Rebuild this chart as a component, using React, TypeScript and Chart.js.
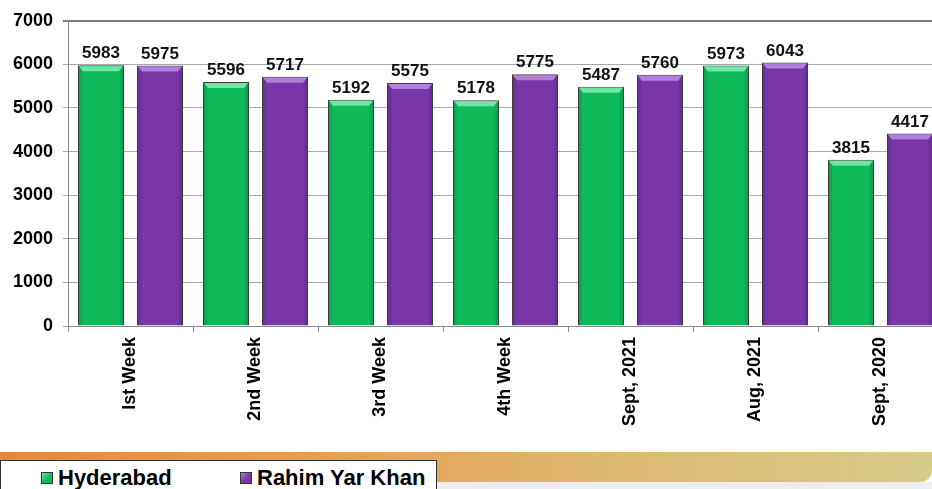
import React, { useEffect, useRef } from "react";
import { Chart, registerables } from "chart.js";

Chart.register(...registerables);

const categories = ["Ist Week", "2nd Week", "3rd Week", "4th Week", "Sept, 2021", "Aug, 2021", "Sept, 2020"];
const hyderabad = [5983, 5596, 5192, 5178, 5487, 5973, 3815];
const rahimYarKhan = [5975, 5717, 5575, 5775, 5760, 6043, 4417];
const seriesNames = ["Hyderabad", "Rahim Yar Khan"];
const yTicks = { min: 0, max: 7000, step: 1000 };

const FONT = "'Liberation Sans', Arial, sans-serif";
const GREEN = "#0fba5a";
const GREEN_LIGHT = "#6fe6a4";
const PURPLE = "#7936a8";
const PURPLE_LIGHT = "#b27ddb";

const barDecor = {
  id: "barDecor",
  afterDatasetsDraw(chart: any) {
    const ctx = chart.ctx;
    chart.data.datasets.forEach((ds: any, di: number) => {
      const meta = chart.getDatasetMeta(di);
      const light = di === 0 ? GREEN_LIGHT : PURPLE_LIGHT;
      meta.data.forEach((el: any, i: number) => {
        const { x, y, base, width } = el.getProps(["x", "y", "base", "width"], true);
        const l = x - width / 2;
        const r = x + width / 2;
        ctx.save();
        const g = ctx.createLinearGradient(l, 0, r, 0);
        g.addColorStop(0, "rgba(0,0,0,0.18)");
        g.addColorStop(0.12, "rgba(0,0,0,0)");
        g.addColorStop(0.88, "rgba(0,0,0,0)");
        g.addColorStop(1, "rgba(0,0,0,0.2)");
        ctx.fillStyle = g;
        ctx.fillRect(l + 1, y + 1, width - 2, base - y - 1);
        ctx.beginPath();
        ctx.moveTo(l + 1, y + 1);
        ctx.lineTo(r - 1, y + 1);
        ctx.lineTo(r - 5, y + 6);
        ctx.lineTo(l + 5, y + 6);
        ctx.closePath();
        ctx.fillStyle = light;
        ctx.fill();
        ctx.fillStyle = "#111";
        ctx.font = `bold 17px ${FONT}`;
        ctx.textAlign = "center";
        ctx.textBaseline = "bottom";
        ctx.fillText(String(ds.data[i]), x, y - 3);
        ctx.restore();
      });
    });
  },
};

function ChartBox() {
  const ref = useRef<HTMLCanvasElement>(null);
  useEffect(() => {
    if (!ref.current) return;
    const chart = new Chart(ref.current, {
      type: "bar",
      data: {
        labels: categories,
        datasets: [
          {
            label: seriesNames[0],
            data: hyderabad,
            backgroundColor: GREEN,
            borderColor: "#3d3d3d",
            borderWidth: 1,
            categoryPercentage: 0.944,
            barPercentage: 0.78,
          },
          {
            label: seriesNames[1],
            data: rahimYarKhan,
            backgroundColor: PURPLE,
            borderColor: "#3d3d3d",
            borderWidth: 1,
            categoryPercentage: 0.944,
            barPercentage: 0.78,
          },
        ],
      },
      options: {
        responsive: false,
        animation: false,
        devicePixelRatio: 1,
        layout: { padding: { top: 19, left: 0, right: 0, bottom: 0 } },
        plugins: { legend: { display: false }, tooltip: { enabled: false } },
        scales: {
          x: {
            afterFit: (s: any) => {
              s.height = 126;
            },
            grid: {
              offset: true,
              drawOnChartArea: false,
              tickLength: 6,
              color: "#8c8c8c",
            },
            border: { color: "#8c8c8c", width: 1 },
            ticks: {
              minRotation: 90,
              maxRotation: 90,
              padding: 5,
              color: "#000",
              font: { family: FONT, size: 18, weight: "bold" },
            },
          },
          y: {
            min: yTicks.min,
            max: yTicks.max,
            afterFit: (s: any) => {
              s.width = 68;
            },
            grid: {
              tickLength: 5,
              color: (c: any) => (c.tick && c.tick.value === yTicks.max ? "#7a7a7a" : "#a8a8a8"),
              lineWidth: (c: any) => (c.tick && c.tick.value === yTicks.max ? 2 : 1),
            },
            border: { color: "#8c8c8c", width: 1 },
            ticks: {
              stepSize: yTicks.step,
              padding: 10,
              color: "#000",
              font: { family: FONT, size: 18, weight: "bold" },
              callback: (v: any) => String(v),
            },
          },
        },
      },
      plugins: [barDecor],
    } as any);
    return () => chart.destroy();
  }, []);
  return (
    <canvas
      ref={ref}
      width={943}
      height={452}
      style={{ position: "absolute", left: 0, top: 0, width: 943, height: 452 }}
    />
  );
}

export default function App() {
  const swatch = (c: string, l: string) => ({
    display: "inline-block",
    width: 12,
    height: 12,
    border: "1px solid #333",
    background: `linear-gradient(135deg, ${l}, ${c} 55%)`,
    boxSizing: "border-box" as const,
  });
  return (
    <div
      style={{
        position: "absolute",
        left: 0,
        top: 0,
        width: 932,
        height: 489,
        overflow: "hidden",
        background: "#fff",
        fontFamily: FONT,
      }}
    >
      <ChartBox />
      <div style={{ position: "absolute", left: 0, top: 482, width: 932, height: 10, background: "#eceeee" }} />
      <div
        style={{
          position: "absolute",
          left: 0,
          top: 452,
          width: 932,
          height: 30,
          background: "linear-gradient(to right, #e8873a 0%, #e5a358 40%, #dcbb74 70%, #d6cb88 100%)",
          borderBottomRightRadius: 12,
        }}
      />
      <div
        style={{
          position: "absolute",
          left: 0,
          top: 460,
          width: 437,
          height: 40,
          background: "#fff",
          border: "1px solid #333",
          boxSizing: "border-box",
        }}
      >
        <div style={{ position: "absolute", left: 40, top: 10, display: "flex", alignItems: "center" }}>
          <span style={swatch(GREEN, GREEN_LIGHT)} />
          <span style={{ marginLeft: 5, fontSize: 22, fontWeight: "bold", lineHeight: "14px" }}>{seriesNames[0]}</span>
        </div>
        <div style={{ position: "absolute", left: 239, top: 10, display: "flex", alignItems: "center" }}>
          <span style={swatch(PURPLE, PURPLE_LIGHT)} />
          <span style={{ marginLeft: 5, fontSize: 22, fontWeight: "bold", lineHeight: "14px" }}>{seriesNames[1]}</span>
        </div>
      </div>
    </div>
  );
}
